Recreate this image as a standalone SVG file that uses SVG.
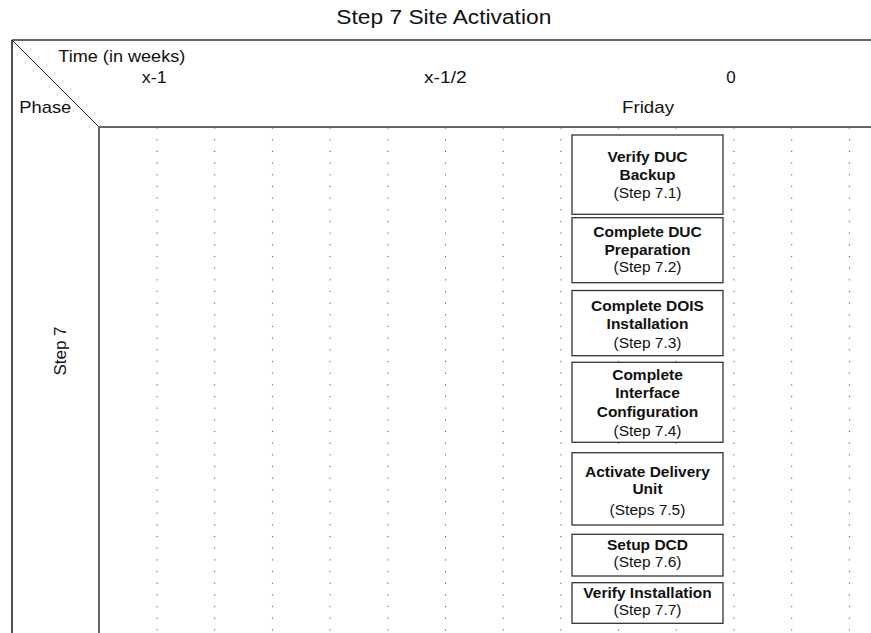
<svg xmlns="http://www.w3.org/2000/svg" width="871" height="633" viewBox="0 0 871 633">
<style>
text{font-family:"Liberation Sans",Arial,sans-serif;fill:#111}
.hdr{font-size:17px}
.title{font-size:20.5px}
.b{font-size:15.5px;font-weight:bold;text-anchor:middle}
.r{font-size:15.5px;text-anchor:middle}
.box{fill:#fff;stroke:#333;stroke-width:1.3}
.dots line{stroke:#555;stroke-width:1;stroke-dasharray:1.2 10.47}
</style>
<rect width="871" height="633" fill="#fff"/>
<g id="grid">
<g class="dots">
<line x1="157" y1="127.5" x2="157" y2="633"/>
<line x1="214.7" y1="127.5" x2="214.7" y2="633"/>
<line x1="272.4" y1="127.5" x2="272.4" y2="633"/>
<line x1="330.1" y1="127.5" x2="330.1" y2="633"/>
<line x1="387.8" y1="127.5" x2="387.8" y2="633"/>
<line x1="445.5" y1="127.5" x2="445.5" y2="633"/>
<line x1="503.2" y1="127.5" x2="503.2" y2="633"/>
<line x1="560.9" y1="127.5" x2="560.9" y2="633"/>
<line x1="618.6" y1="127.5" x2="618.6" y2="633"/>
<line x1="676.3" y1="127.5" x2="676.3" y2="633"/>
<line x1="734" y1="127.5" x2="734" y2="633"/>
<line x1="791.7" y1="127.5" x2="791.7" y2="633"/>
<line x1="849.4" y1="127.5" x2="849.4" y2="633"/>
</g>
<line x1="12" y1="40" x2="871" y2="40" stroke="#333" stroke-width="1.5"/>
<line x1="12" y1="40" x2="12" y2="633" stroke="#111" stroke-width="1.5"/>
<line x1="12" y1="40" x2="99" y2="127" stroke="#222" stroke-width="1"/>
<line x1="98" y1="127" x2="871" y2="127" stroke="#666" stroke-width="2"/>
<line x1="99" y1="127" x2="99" y2="633" stroke="#666" stroke-width="2"/>
</g>
<g id="labels">
<text class="title" x="443.8" y="24" text-anchor="middle" textLength="215" lengthAdjust="spacingAndGlyphs">Step 7 Site Activation</text>
<text class="hdr" x="58.3" y="62.3" textLength="127" lengthAdjust="spacingAndGlyphs">Time (in weeks)</text>
<text class="hdr" x="141.7" y="83.3" textLength="25" lengthAdjust="spacingAndGlyphs">x-1</text>
<text class="hdr" x="424" y="83" textLength="42.7" lengthAdjust="spacingAndGlyphs">x-1/2</text>
<text class="hdr" x="731" y="83.3" text-anchor="middle">0</text>
<text class="hdr" x="19.3" y="113.3" textLength="52" lengthAdjust="spacingAndGlyphs">Phase</text>
<text class="hdr" x="622" y="113.3" textLength="52" lengthAdjust="spacingAndGlyphs">Friday</text>
<text class="hdr" transform="translate(66,351) rotate(-90)" text-anchor="middle">Step 7</text>
</g>
<g id="n71">
<rect class="box" x="572" y="135" width="151" height="79.3"/>
<text class="b" x="647.5" y="162">Verify DUC</text>
<text class="b" x="647.5" y="180">Backup</text>
<text class="r" x="647.5" y="197.7">(Step 7.1)</text>
</g>
<g id="n72">
<rect class="box" x="572" y="217.7" width="151" height="65"/>
<text class="b" x="647.5" y="236.5">Complete DUC</text>
<text class="b" x="647.5" y="254.5">Preparation</text>
<text class="r" x="647.5" y="272">(Step 7.2)</text>
</g>
<g id="n73">
<rect class="box" x="572" y="290.5" width="151" height="65.2"/>
<text class="b" x="647.5" y="311">Complete DOIS</text>
<text class="b" x="647.5" y="329.3">Installation</text>
<text class="r" x="647.5" y="347.5">(Step 7.3)</text>
</g>
<g id="n74">
<rect class="box" x="572" y="362.3" width="151" height="80"/>
<text class="b" x="647.5" y="379.8">Complete</text>
<text class="b" x="647.5" y="398">Interface</text>
<text class="b" x="647.5" y="416.5">Configuration</text>
<text class="r" x="647.5" y="435.5">(Step 7.4)</text>
</g>
<g id="n75">
<rect class="box" x="572" y="452.7" width="151" height="72.3"/>
<text class="b" x="647.5" y="476.5">Activate Delivery</text>
<text class="b" x="647.5" y="494">Unit</text>
<text class="r" x="647.5" y="515.3">(Steps 7.5)</text>
</g>
<g id="n76">
<rect class="box" x="572" y="534.3" width="151" height="41.7"/>
<text class="b" x="647.5" y="550.3">Setup DCD</text>
<text class="r" x="647.5" y="567">(Step 7.6)</text>
</g>
<g id="n77">
<rect class="box" x="572" y="582.7" width="151" height="40.6"/>
<text class="b" x="647.5" y="598">Verify Installation</text>
<text class="r" x="647.5" y="614.5">(Step 7.7)</text>
</g>
</svg>
